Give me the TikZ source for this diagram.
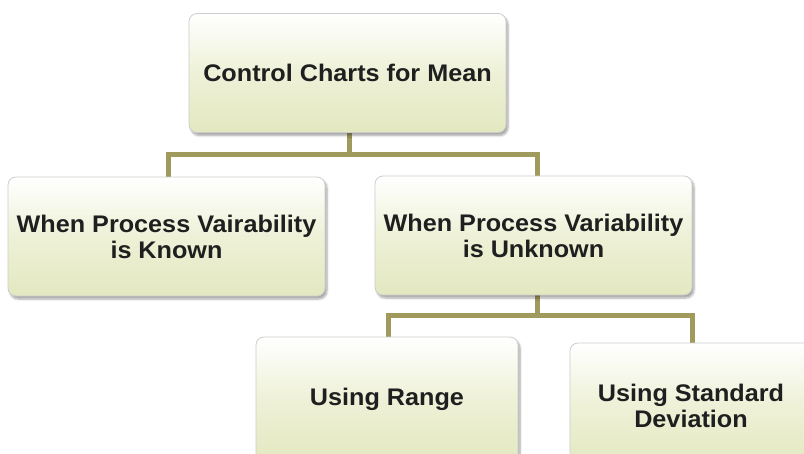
\documentclass[tikz,border=0pt]{standalone}
\usepackage{fontspec}
\setmainfont{Liberation Sans}
\newfontfamily\boxfont[FakeStretch=1.05]{Liberation Sans}
\usetikzlibrary{shadows.blur}
\definecolor{connc}{RGB}{160,154,92}
\definecolor{boxbot}{RGB}{227,232,192}
\definecolor{boxmid}{RGB}{238,241,215}
\definecolor{boxline}{RGB}{205,205,205}
\pgfdeclarelayer{bg}
\pgfsetlayers{bg,main}
\begin{document}
\begin{tikzpicture}[x=1pt,y=-1pt,
  box/.style={draw=boxline, line width=0.8pt, rounded corners=8pt,
    top color=white, bottom color=boxbot, middle color=boxmid,
    minimum height=119pt, inner sep=0pt, align=center,
    font=\boxfont\bfseries\fontsize{24}{26}\selectfont, text=black!88,
    blur shadow={shadow blur steps=6, shadow xshift=2pt, shadow yshift=-3pt, shadow opacity=35}},
  connline/.style={draw=connc, line width=5pt}]
\useasboundingbox (0,0) rectangle (804,453);
\clip (0,0) rectangle (804,453);
\node[box, minimum width=317pt] (top) at (347.5,73) {Control Charts for Mean};
\node[box, minimum width=317pt] (known) at (166.5,236.5) {When Process Vairability\\is Known};
\node[box, minimum width=317pt] (unknown) at (533.5,235.5) {When Process Variability\\is Unknown};
\node[box, minimum width=262pt, minimum height=125pt] (range) at (387,399.5) {Using Range};
\node[box, minimum width=242pt, minimum height=125pt] (std) at (691,405.5) {Using Standard\\Deviation};
\begin{pgfonlayer}{bg}
\draw[connline] ([xshift=1.5pt]top.south) -- ++(0,22) coordinate (j1);
\draw[connline] ([xshift=1.5pt]known.north) |- (j1) -| ([xshift=3.5pt]unknown.north);
\draw[connline] ([xshift=3.5pt]unknown.south) -- ++(0,20) coordinate (j2);
\draw[connline] ([xshift=1pt]range.north) |- (j2) -| ([xshift=1pt]std.north);
\end{pgfonlayer}
\end{tikzpicture}
\end{document}
